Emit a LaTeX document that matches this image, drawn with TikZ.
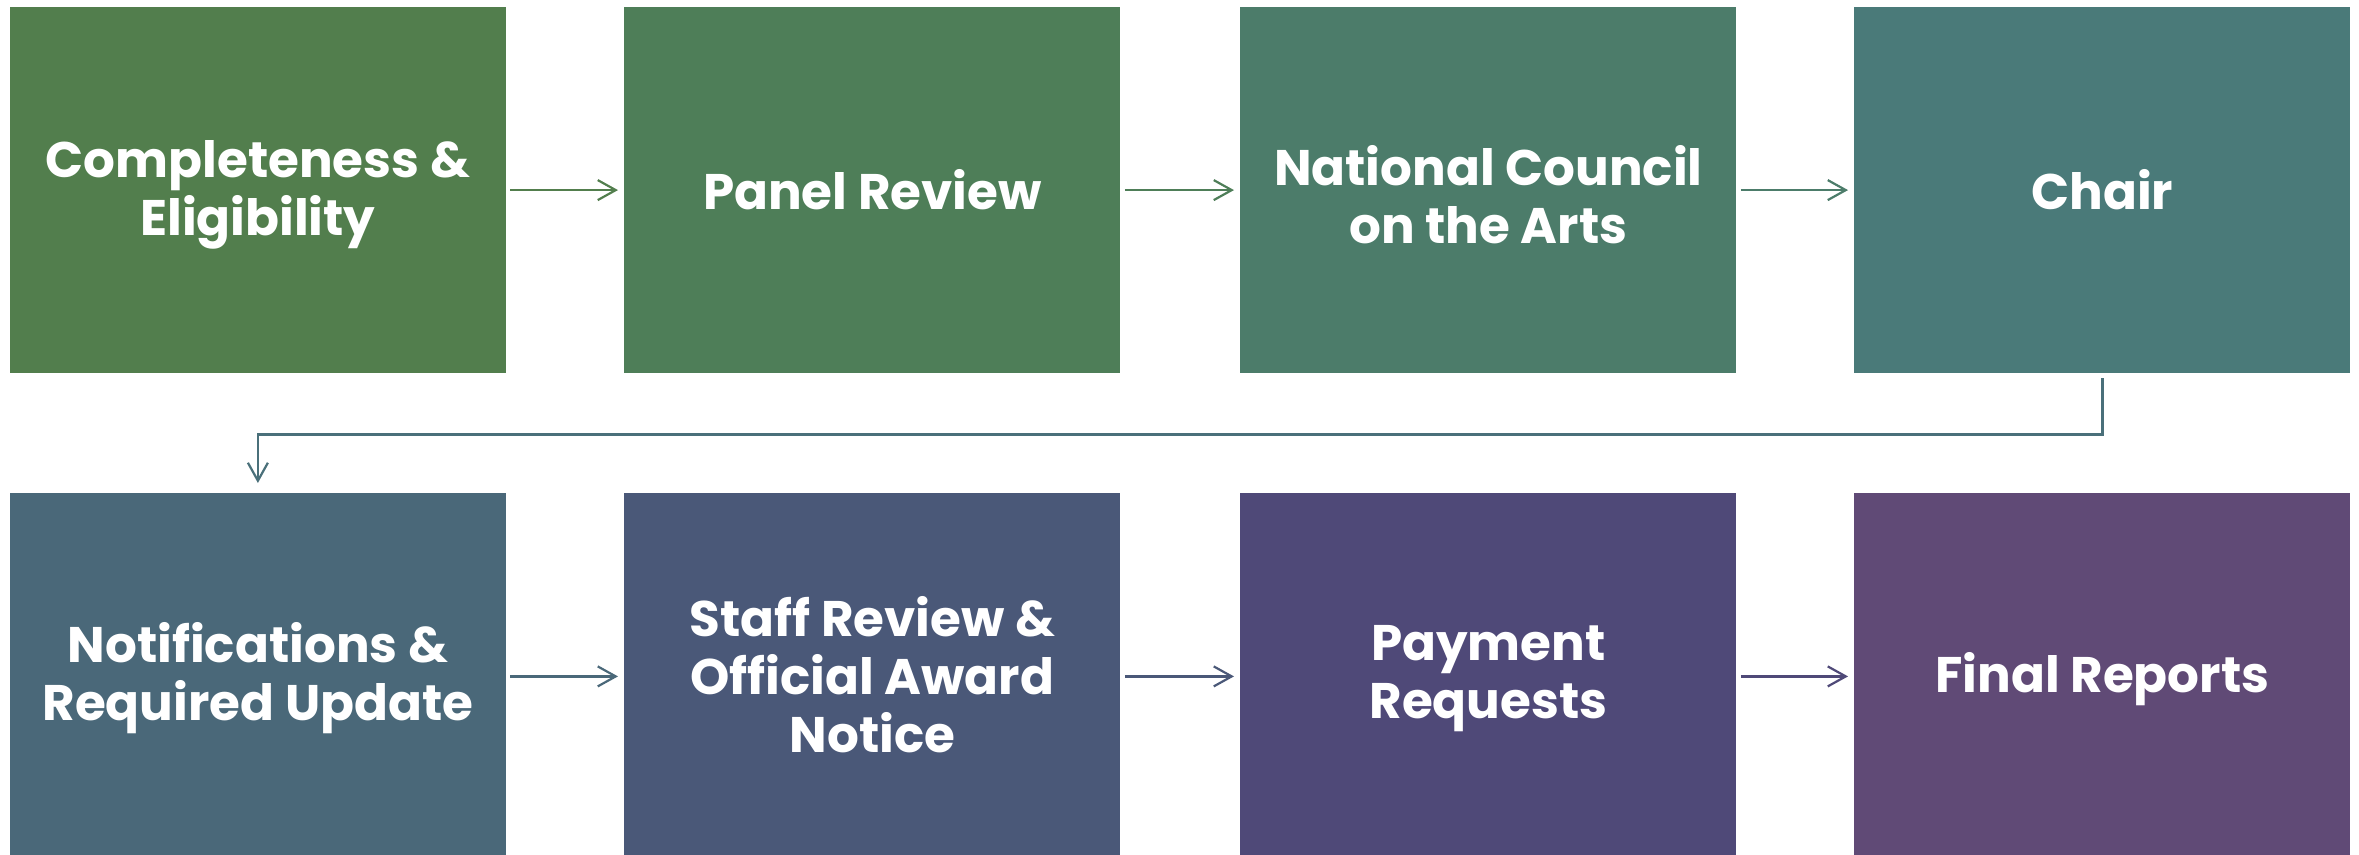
\documentclass[tikz,border=0pt]{standalone}
\usepackage{fontspec}
\setmainfont{Poppins}
\usetikzlibrary{arrows.meta}
\definecolor{c1}{RGB}{82,126,77}
\definecolor{c2}{RGB}{78,126,88}
\definecolor{c3}{RGB}{76,124,106}
\definecolor{c4}{RGB}{74,122,121}
\definecolor{c5}{RGB}{74,104,121}
\definecolor{c6}{RGB}{74,88,120}
\definecolor{c7}{RGB}{79,73,120}
\definecolor{c8}{RGB}{96,74,118}
\definecolor{cl}{RGB}{74,112,122}
\begin{document}
\begin{tikzpicture}[x=0.5pt,y=-0.5pt,
  box/.style={fill=#1, draw=none, minimum width=248pt, minimum height=183pt,
    anchor=north west, inner sep=0pt},
  label text/.style={text=white, align=center, inner sep=0pt,
    font=\bfseries\fontsize{25}{29}\selectfont},
  conn/.style={draw=#1, line width=1.1pt, -{Straight Barb[length=9pt,width=10pt,line width=1.1pt]}}]
\useasboundingbox (0,0) rectangle (2359,855);
\clip (0,0) rectangle (2359,855);
\node[box=c1] (b1) at (9.5,6.7) {};
\node[box=c2] (b2) at (624,6.7) {};
\node[box=c3] (b3) at (1240,6.7) {};
\node[box=c4] (b4) at (1854,6.7) {};
\node[box=c5] (b5) at (9.5,493) {};
\node[box=c6] (b6) at (624,493) {};
\node[box=c7] (b7) at (1240,493) {};
\node[box=c8] (b8) at (1854,493) {};
\node[label text, yshift=-2.5pt] (t1) at (b1.center) {Completeness \&\\Eligibility};
\node[label text, yshift=0pt] (t2) at (b2.center) {Panel Review};
\node[label text, yshift=-2.5pt] (t3) at (b3.center) {National Council\\on the Arts};
\node[label text, yshift=0pt] (t4) at (b4.center) {Chair};
\node[label text, yshift=-1pt] (t5) at (b5.center) {Notifications \&\\Required Update};
\node[label text, yshift=1pt] (t6) at (b6.center) {Staff Review \&\\Official Award\\Notice};
\node[label text, yshift=-1pt] (t7) at (b7.center) {Payment\\Requests};
\node[label text, yshift=-1.5pt] (t8) at (b8.center) {Final Reports};
\draw[conn=c1, shorten <=2pt, shorten >=3pt] (b1.east) -- (b2.west);
\draw[conn=c2, shorten <=2pt, shorten >=3pt] (b2.east) -- (b3.west);
\draw[conn=c3, shorten <=2pt, shorten >=3pt] (b3.east) -- (b4.west);
\draw[conn=cl, shorten <=2.5pt, shorten >=5pt] (b4.south) -- ++(0,61) -| (b5.north);
\draw[conn=c5, shorten <=2pt, shorten >=3pt] (b5.east) -- (b6.west);
\draw[conn=c6, shorten <=2pt, shorten >=3pt] (b6.east) -- (b7.west);
\draw[conn=c7, shorten <=2pt, shorten >=3pt] (b7.east) -- (b8.west);
\end{tikzpicture}
\end{document}
